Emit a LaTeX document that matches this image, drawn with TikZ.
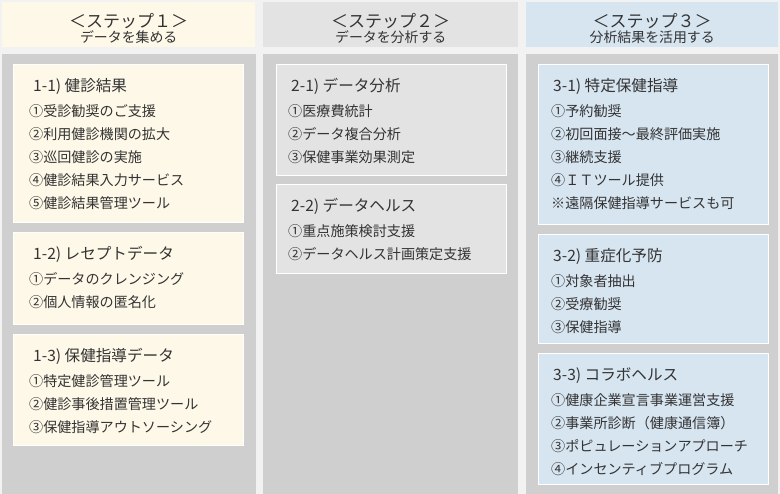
\documentclass[tikz,border=0pt]{standalone}
\usepackage{fontspec}
\setmainfont{Noto Sans CJK JP}
\usetikzlibrary{positioning,calc}
\definecolor{stbg}{HTML}{F2F2F2}
\definecolor{stgray}{HTML}{CFCFCF}
\definecolor{stcream}{HTML}{FDF8E8}
\definecolor{stlight}{HTML}{E3E3E3}
\definecolor{stblue}{HTML}{D7E5F1}
\definecolor{sttext}{HTML}{333333}

\begin{document}
\begin{tikzpicture}[x=1pt,y=-1pt,
  hdr/.style={inner sep=0pt,anchor=north west,minimum height=45pt},
  col/.style={fill=stgray,inner sep=0pt,anchor=north west,minimum height=440pt},
  card/.style={draw=white,line width=0.8pt,inner sep=0pt,anchor=north west,minimum width=230pt},
  head/.style={text=sttext,inner sep=0pt,anchor=base,font=\fontsize{17}{20}\selectfont},
  sub/.style={text=sttext,inner sep=0pt,anchor=base,font=\fontsize{13.9}{16}\selectfont},
  ttl/.style={text=sttext,inner sep=0pt,anchor=base west,font=\fontsize{15.6}{18}\selectfont},
  item/.style={text=sttext,inner sep=0pt,anchor=base west,font=\fontsize{14.1}{16}\selectfont}]
  \fill[stbg] (0,0) rectangle (780,494);
  \useasboundingbox (0,0) rectangle (780,494);
  % step headers
  \node[hdr,fill=stcream,minimum width=253pt] (h1) at (2,2) {};
  \node[hdr,fill=stlight,minimum width=255pt] (h2) at (263,2) {};
  \node[hdr,fill=stblue,minimum width=252pt] (h3) at (526,2) {};
  \node[head] (h1a) at ($(h1.north)+(0,26)$) {＜ステップ１＞};
  \node[sub] (h1b) at ($(h1.north)+(0,41)$) {データを集める};
  \node[head] (h2a) at ($(h2.north)+(0,26)$) {＜ステップ２＞};
  \node[sub] (h2b) at ($(h2.north)+(0,41)$) {データを分析する};
  \node[head] (h3a) at ($(h3.north)+(0,26)$) {＜ステップ３＞};
  \node[sub] (h3b) at ($(h3.north)+(0,41)$) {分析結果を活用する};
  % columns
  \node[col,minimum width=254pt] (s1) at (2,54) {};
  \node[col,minimum width=255pt] (s2) at (263,54) {};
  \node[col,minimum width=252pt] (s3) at (526,54) {};
  % step 1
  \node[card,fill=stcream,minimum height=158pt] (c11) at (13,64) {};
  \node[card,fill=stcream,minimum height=92pt] (c12) at (13,232) {};
  \node[card,fill=stcream,minimum height=111pt] (c13) at (13,334) {};
  \node[ttl] (t11) at ($(c11.north west)+(20,28)$) {1-1) 健診結果};
  \foreach \t [count=\i] in {①受診勧奨のご支援,②利用健診機関の拡大,③巡回健診の実施,④健診結果入力サービス,⑤健診結果管理ツール}
    \node[item] (c11-\i) at ($(c11.north west)+(16,{53+23*(\i-1)})$) {\t};
  \node[ttl] (t12) at ($(c12.north west)+(20,28)$) {1-2) レセプトデータ};
  \foreach \t [count=\i] in {①データのクレンジング,②個人情報の匿名化}
    \node[item] (c12-\i) at ($(c12.north west)+(16,{53+23*(\i-1)})$) {\t};
  \node[ttl] (t13) at ($(c13.north west)+(20,28)$) {1-3) 保健指導データ};
  \foreach \t [count=\i] in {①特定健診管理ツール,②健診事後措置管理ツール,③保健指導アウトソーシング}
    \node[item] (c13-\i) at ($(c13.north west)+(16,{53+23*(\i-1)})$) {\t};
  % step 2
  \node[card,fill=stlight,minimum height=111pt] (c21) at (276,64) {};
  \node[card,fill=stlight,minimum height=89pt] (c22) at (276,184) {};
  \node[ttl] (t21) at ($(c21.north west)+(15,28)$) {2-1) データ分析};
  \foreach \t [count=\i] in {①医療費統計,②データ複合分析,③保健事業効果測定}
    \node[item] (c21-\i) at ($(c21.north west)+(12,{53+23*(\i-1)})$) {\t};
  \node[ttl] (t22) at ($(c22.north west)+(15,28)$) {2-2) データヘルス};
  \foreach \t [count=\i] in {①重点施策検討支援,②データヘルス計画策定支援}
    \node[item] (c22-\i) at ($(c22.north west)+(12,{53+23*(\i-1)})$) {\t};
  % step 3
  \node[card,fill=stblue,minimum height=160pt] (c31) at (538,64) {};
  \node[card,fill=stblue,minimum height=109pt] (c32) at (538,234) {};
  \node[card,fill=stblue,minimum height=131pt] (c33) at (538,353) {};
  \node[ttl] (t31) at ($(c31.north west)+(15,28)$) {3-1) 特定保健指導};
  \foreach \t [count=\i] in {①予約勧奨,②初回面接～最終評価実施,③継続支援,④ＩＴツール提供,※遠隔保健指導サービスも可}
    \node[item] (c31-\i) at ($(c31.north west)+(13,{53+23*(\i-1)})$) {\t};
  \node[ttl] (t32) at ($(c32.north west)+(15,28)$) {3-2) 重症化予防};
  \foreach \t [count=\i] in {①対象者抽出,②受療勧奨,③保健指導}
    \node[item] (c32-\i) at ($(c32.north west)+(13,{53+23*(\i-1)})$) {\t};
  \node[ttl] (t33) at ($(c33.north west)+(15,28)$) {3-3) コラボヘルス};
  \foreach \t [count=\i] in {①健康企業宣言事業運営支援,②事業所診断（健康通信簿）,③ポピュレーションアプローチ,④インセンティブプログラム}
    \node[item] (c33-\i) at ($(c33.north west)+(13,{53+23*(\i-1)})$) {\t};
\end{tikzpicture}
\end{document}
